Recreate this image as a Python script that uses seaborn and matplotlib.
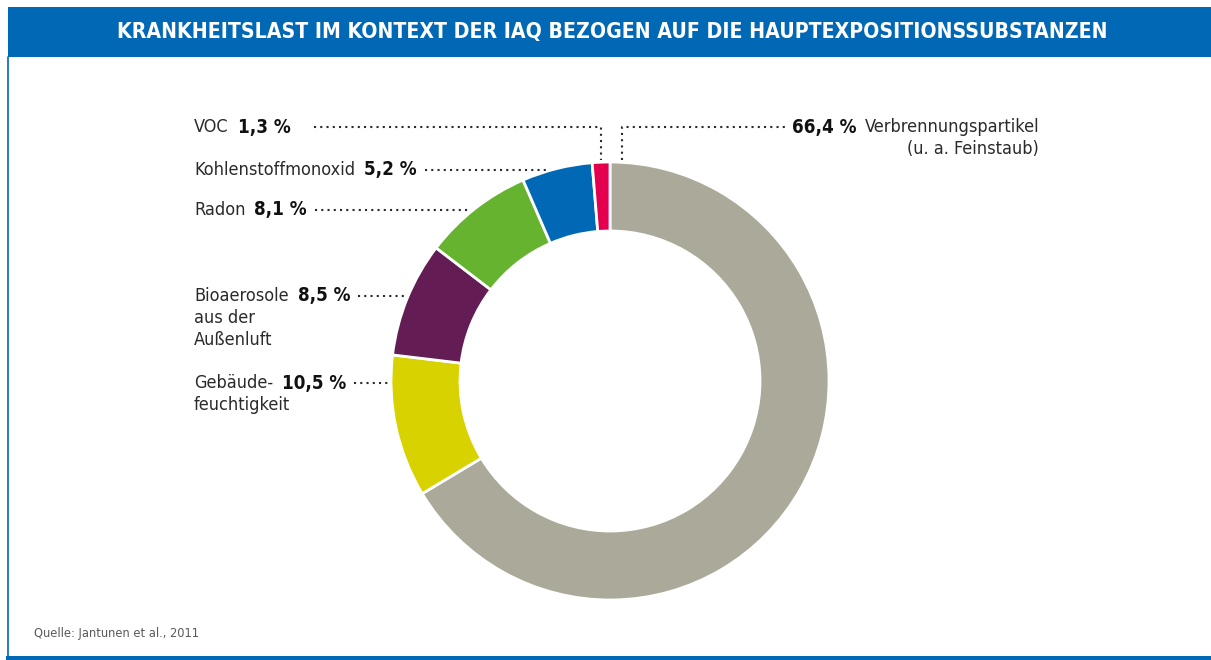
import matplotlib
matplotlib.use('Agg')
import matplotlib.pyplot as plt
from matplotlib.patches import Rectangle
import seaborn as sns
import numpy as np

# --- Data ---
TITLE = 'KRANKHEITSLAST IM KONTEXT DER IAQ BEZOGEN AUF DIE HAUPTEXPOSITIONSSUBSTANZEN'
SOURCE = 'Quelle: Jantunen et al., 2011'
categories = ['Verbrennungspartikel\n(u. a. Feinstaub)', 'Gebäude-\nfeuchtigkeit',
              'Bioaerosole\naus der\nAußenluft', 'Radon', 'Kohlenstoffmonoxid', 'VOC']
shares = [66.4, 10.5, 8.5, 8.1, 5.2, 1.3]
share_labels = ['66,4 %', '10,5 %', '8,5 %', '8,1 %', '5,2 %', '1,3 %']

# --- Styling ---
colors = ['#abaa9a', '#d8d300', '#641c54', '#66b330', '#0068b4', '#e4004e']
BLUE = '#0068b4'
sns.set_theme(style="white")
plt.rcParams['font.family'] = ['DejaVu Sans']
plt.rcParams['font.stretch'] = 'condensed'

W, H = 1211, 660
CX, CY, R, RI = 610, 381, 219, 150


def Y(y):
    return H - y


fig = plt.figure(figsize=(W / 100, H / 100), dpi=100)
ax = fig.add_axes([0, 0, 1, 1])

# frame
ax.add_patch(Rectangle((8, Y(57)), W - 8, 50, color=BLUE, lw=0))
ax.plot([8, 8], [Y(57), Y(656)], color=BLUE, lw=1.2)
ax.add_patch(Rectangle((6, 0), W - 6, 4, color=BLUE, lw=0))
ax.text(612, Y(32), TITLE, color='white', fontsize=15.2, fontweight='bold',
        ha='center', va='center')
ax.text(34, Y(633), SOURCE, color='#5a5a5a', fontsize=9.2, va='center')

# donut
ax.pie(shares, colors=colors, startangle=90, counterclock=False,
       center=(CX, Y(CY)), radius=R, frame=True,
       wedgeprops=dict(width=R - RI, edgecolor='white', linewidth=2))
ax.set_xlim(0, W)
ax.set_ylim(0, H)
ax.set_aspect('auto')
ax.axis('off')

fig.canvas.draw()
rend = fig.canvas.get_renderer()
dot = dict(color='#2a2a2a', lw=1.5, ls=(0, (1, 2)))

# left labels
left_idx = [5, 4, 3, 2, 1]
left_y = [127, 170, 210, 296, 383]
for i, y in zip(left_idx, left_y):
    lines = categories[i].split('\n')
    t = ax.text(194, Y(y), lines[0], fontsize=13, va='center', color='#2a2a2a')
    for k, extra in enumerate(lines[1:], start=1):
        ax.text(194, Y(y + 22 * k), extra, fontsize=13, va='center', color='#2a2a2a')
    x1 = t.get_window_extent(rend).x1
    b = ax.text(x1 + 9, Y(y), share_labels[i], fontsize=13.5, fontweight='bold',
                va='center', color='#111111')
    x2 = b.get_window_extent(rend).x1
    if i == 5:
        # VOC leader goes to the top of its thin slice
        ang = np.deg2rad(90 + shares[5] / 2 * 3.6)
        vx = CX + R * np.cos(ang)
        ax.plot([x2 + 24, vx, vx], [Y(y), Y(y), Y(160)], **dot)
    else:
        xe = CX - np.sqrt(R ** 2 - (y - CY) ** 2) - 2
        ax.plot([x2 + 8, xe], [Y(y), Y(y)], **dot)

# right label
ax.plot([622, 622, 785], [Y(160), Y(127), Y(127)], **dot)
b = ax.text(792, Y(127), share_labels[0], fontsize=13.5, fontweight='bold',
            va='center', color='#111111')
x2 = b.get_window_extent(rend).x1
l1, l2 = categories[0].split('\n')
t = ax.text(x2 + 8, Y(127), l1, fontsize=13, va='center', color='#2a2a2a')
x3 = t.get_window_extent(rend).x1
ax.text(x3, Y(149), l2, fontsize=13, va='center', ha='right', color='#2a2a2a')

fig.savefig('out.png', dpi=100)
